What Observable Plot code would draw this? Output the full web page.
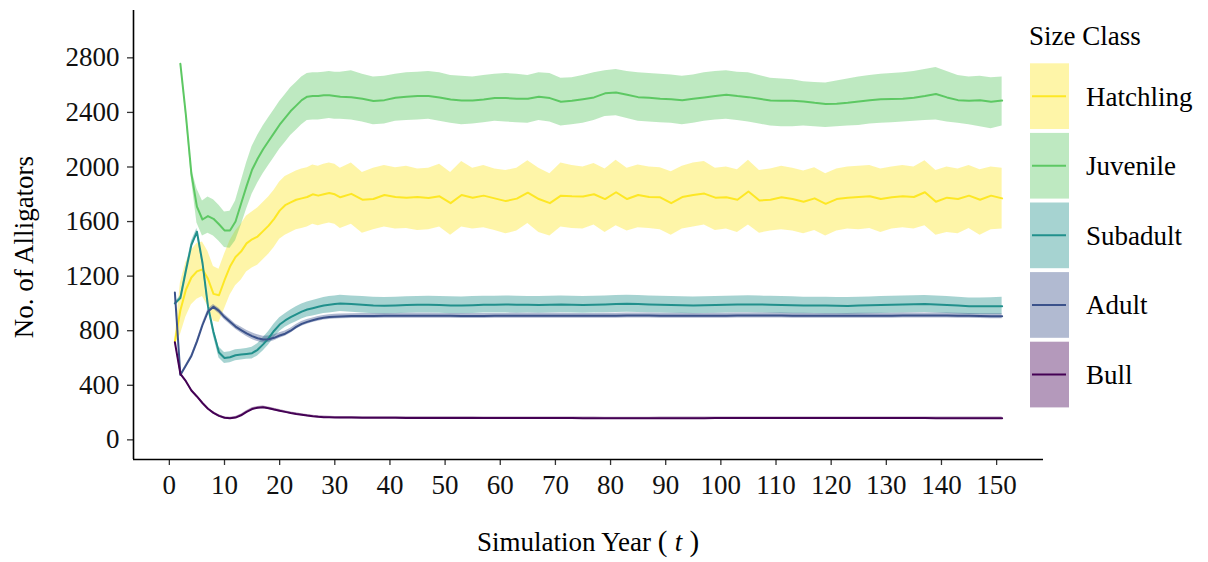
<!DOCTYPE html>
<html><head><meta charset="utf-8">
<script src="https://cdn.jsdelivr.net/npm/d3@7"></script>
<script src="https://cdn.jsdelivr.net/npm/@observablehq/plot@0.6"></script>
<style>body{margin:0;background:#fff}#chart{width:1208px;height:562px}</style>
</head><body><div id="chart"></div>
<script>
// ---------- data ----------
const classes = ["Hatchling", "Juvenile", "Subadult", "Adult", "Bull"];
const colors = ["#FDE725", "#5DC863", "#21908C", "#3B528B", "#440154"];
const xTicks = [0,10,20,30,40,50,60,70,80,90,100,110,120,130,140,150];
const yTicks = [0,400,800,1200,1600,2000,2400,2800];

// years 1..30 every year, then 31..151 every second year
const years = [1,2,3,4,5,6,7,8,9,10,11,12,13,14,15,16,17,18,19,20,21,22,23,24,25,26,27,28,29,30,
  31,33,35,37,39,41,43,45,47,49,51,53,55,57,59,61,63,65,67,69,71,73,75,77,79,81,83,85,87,89,
  91,93,95,97,99,101,103,105,107,109,111,113,115,117,119,121,123,125,127,129,131,133,135,137,139,141,143,145,147,149,151];

const hatchMean = [720,950,1100,1190,1235,1250,1180,1070,1060,1170,1270,1340,1380,1440,1470,1490,1530,1570,1620,1680,1720,1740,1760,1770,1780,1800,1790,1800,1810,1800,
  1778,1803,1760,1765,1795,1780,1775,1780,1772,1785,1735,1795,1775,1790,1770,1750,1768,1812,1765,1735,
  1790,1785,1783,1800,1765,1815,1765,1795,1780,1778,1735,1780,1795,1805,1775,1778,1760,1820,1755,1760,
  1778,1765,1745,1770,1730,1765,1775,1780,1785,1765,1778,1785,1780,1815,1745,1775,1765,1790,1760,1790,1770];
const hatchHi = [740,1150,1300,1390,1440,1450,1380,1270,1250,1360,1460,1530,1580,1640,1670,1700,1740,1780,1830,1890,1930,1950,1970,1985,1995,2015,2005,2020,2030,2020,
  1990,2030,1960,1990,2010,1995,2005,1985,1990,2020,1960,2040,1990,2010,1985,1975,1990,2045,1990,1950,
  2030,2010,2000,2025,1985,2050,1990,2015,2000,1995,1965,2005,2030,2040,1990,2000,1980,2050,1975,1985,
  2005,1990,1970,1995,1950,1985,2000,2005,2010,1985,2000,2010,2000,2045,1975,2000,1985,2010,1980,2000,1990];
const hatchLo = [700,770,900,990,1030,1050,980,870,860,960,1060,1130,1170,1230,1260,1280,1320,1360,1410,1470,1500,1520,1540,1550,1560,1580,1570,1580,1590,1580,
  1550,1580,1515,1540,1560,1545,1550,1535,1540,1560,1500,1560,1545,1555,1535,1510,1530,1585,1520,1495,
  1560,1550,1545,1575,1520,1570,1530,1555,1550,1540,1500,1545,1560,1575,1535,1545,1520,1575,1515,1530,
  1540,1530,1510,1535,1495,1530,1545,1540,1550,1520,1545,1555,1545,1570,1500,1520,1510,1550,1500,1540,1545];

const juvMean = [null,2756,2380,1950,1710,1615,1640,1620,1580,1535,1535,1600,1730,1860,1980,2060,2130,2190,2250,2310,2360,2410,2450,2490,2515,2520,2520,2525,2525,2520,
  2515,2511,2500,2484,2490,2508,2515,2520,2520,2510,2495,2488,2487,2495,2505,2505,2500,2500,2515,2505,
  2478,2485,2497,2510,2540,2546,2530,2512,2508,2500,2497,2490,2500,2510,2520,2530,2520,2512,2500,2487,
  2486,2485,2480,2470,2462,2463,2470,2480,2490,2497,2498,2500,2508,2520,2535,2510,2490,2485,2490,2478,2487];
const juvHi = [null,2760,2395,1990,1840,1750,1780,1760,1720,1670,1675,1750,1890,2030,2150,2230,2300,2360,2420,2480,2530,2580,2620,2660,2685,2690,2690,2695,2700,2695,
  2695,2705,2680,2660,2665,2680,2690,2695,2700,2690,2670,2665,2660,2670,2680,2685,2680,2670,2690,2685,
  2650,2655,2670,2690,2705,2715,2700,2690,2685,2680,2675,2665,2675,2690,2700,2705,2695,2690,2670,2650,
  2645,2640,2625,2620,2615,2630,2645,2660,2670,2680,2685,2690,2700,2715,2730,2700,2670,2660,2665,2655,2660];
const juvLo = [null,2750,2365,1910,1590,1495,1515,1495,1455,1410,1405,1460,1570,1690,1800,1880,1950,2010,2070,2130,2180,2230,2270,2310,2340,2345,2345,2350,2355,2350,
  2350,2345,2330,2310,2315,2335,2340,2345,2350,2335,2320,2310,2315,2325,2335,2330,2325,2320,2340,2330,
  2300,2310,2320,2340,2370,2375,2355,2335,2330,2325,2320,2310,2320,2335,2345,2350,2340,2330,2315,2300,
  2295,2295,2300,2295,2290,2295,2300,2305,2315,2320,2325,2330,2335,2340,2345,2330,2320,2310,2295,2280,2300];

const subMean = [1000,1040,1240,1430,1525,1300,980,790,640,600,605,620,625,630,635,660,700,745,800,845,875,900,920,940,955,965,975,985,990,995,
  1000,995,990,985,983,985,988,990,990,988,985,985,987,990,990,992,990,990,988,990,
  992,990,988,990,992,995,998,995,992,990,988,986,985,986,988,990,992,993,992,990,
  988,986,985,985,984,983,982,984,986,988,990,992,994,996,992,988,984,980,980,980,980];
const subHi = [1010,1055,1260,1455,1550,1320,1000,820,680,640,645,660,665,670,678,705,748,795,850,895,925,952,975,995,1010,1022,1033,1043,1050,1055,
  1060,1055,1050,1045,1043,1045,1048,1050,1052,1050,1048,1047,1050,1052,1052,1055,1052,1050,1050,1052,
  1055,1052,1050,1052,1055,1058,1060,1058,1055,1052,1050,1048,1047,1048,1050,1052,1055,1056,1054,1052,
  1050,1048,1046,1046,1045,1044,1043,1045,1047,1050,1052,1054,1056,1058,1054,1050,1045,1040,1040,1042,1045];
const subLo = [990,1025,1220,1405,1500,1280,960,760,600,560,565,580,585,590,592,615,652,695,750,795,825,848,865,885,900,908,917,927,930,935,
  940,935,930,925,923,925,928,930,930,928,925,925,927,930,930,930,928,930,928,930,
  932,930,928,930,932,934,936,934,932,930,928,926,925,926,928,930,932,932,930,928,
  926,925,924,924,923,922,921,923,925,927,928,930,932,934,930,926,922,918,918,918,918];

const adultMean = [1080,475,545,615,720,840,940,975,945,900,865,830,805,780,760,745,735,738,748,765,778,800,828,850,865,877,887,895,900,903,
  905,907,908,908,909,909,910,910,910,909,909,908,908,908,909,909,910,910,910,910,
  910,909,909,909,910,910,911,911,911,910,910,910,909,909,910,910,911,912,912,911,
  911,910,910,909,909,909,909,910,910,910,910,911,911,912,912,911,910,909,907,906,906];
const adultHi = [1085,480,552,625,732,855,957,993,965,920,885,850,827,803,785,770,760,762,770,785,797,818,846,867,882,894,904,912,917,920,
  923,925,926,926,927,927,928,928,928,927,927,926,926,926,927,927,928,928,928,928,
  928,927,927,927,928,928,929,929,929,928,928,928,927,927,928,928,929,930,930,929,
  929,928,928,927,927,927,927,928,928,928,928,929,929,930,930,929,928,927,925,924,924];
const adultLo = [1075,470,538,605,708,825,923,957,925,880,845,810,783,757,735,720,710,714,726,745,759,782,810,833,848,860,870,878,883,886,
  887,889,890,890,891,891,892,892,892,891,891,890,890,890,891,891,892,892,892,892,
  892,891,891,891,892,892,893,893,893,892,892,892,891,891,892,892,893,894,894,893,
  893,892,892,891,891,891,891,892,892,892,892,893,893,894,894,893,892,891,889,888,888];

const bullMean = [716,484,430,362,318,270,228,198,176,162,158,163,180,205,226,236,239,232,222,213,205,197,190,184,178,173,169,166,165,164,
  163,163,162,162,162,162,161,161,161,161,161,161,161,160,160,160,160,160,160,160,
  160,160,159,159,158,158,158,158,158,159,159,159,159,159,160,160,160,160,160,160,
  160,160,160,160,160,160,160,160,160,160,160,160,160,160,159,159,159,159,159,159,159];
const bullHi = [720,490,437,370,326,278,236,206,184,170,166,171,188,213,235,245,248,241,231,222,214,205,198,192,186,181,177,174,173,172,
  171,171,170,170,170,170,169,169,169,169,169,169,169,168,168,168,168,168,168,168,
  168,168,167,167,166,166,166,166,166,167,167,167,167,167,168,168,168,168,168,168,
  168,168,168,168,168,168,168,168,168,168,168,168,168,168,167,167,167,167,167,167,167];
const bullLo = [712,478,423,354,310,262,220,190,168,154,150,155,172,197,217,227,230,223,213,204,196,189,182,176,170,165,161,158,157,156,
  155,155,154,154,154,154,153,153,153,153,153,153,153,152,152,152,152,152,152,152,
  152,152,151,151,150,150,150,150,150,151,151,151,151,151,152,152,152,152,152,152,
  152,152,152,152,152,152,152,152,152,152,152,152,152,152,151,151,151,151,151,151,151];

// ---------- table ----------
const series = [
  ["Hatchling", hatchMean, hatchLo, hatchHi],
  ["Juvenile", juvMean, juvLo, juvHi],
  ["Subadult", subMean, subLo, subHi],
  ["Adult", adultMean, adultLo, adultHi],
  ["Bull", bullMean, bullLo, bullHi]
];
const rows = [];
for (const [cls, m, lo, hi] of series) {
  years.forEach((yr, i) => rows.push({cls, year: yr, mean: m[i], lo: lo[i], hi: hi[i]}));
}

// ---------- layout ----------
const W = 1208, H = 562, mL = 133, mR = 165, mT = 10, mB = 103;
const FONT = "'Liberation Serif', 'Times New Roman', serif";
const xDom = [-6.5, 158.5], yDom = [-144, 3147];

const svgEl = Plot.plot({
  width: W, height: H,
  marginLeft: mL, marginRight: mR, marginTop: mT, marginBottom: mB,
  style: {fontFamily: FONT, fontSize: "27px", color: "#000", background: "#fff", overflow: "visible"},
  x: {domain: xDom},
  y: {domain: yDom},
  color: {domain: classes, range: colors},
  marks: [
    Plot.areaY(rows, {x: "year", y1: "lo", y2: "hi", z: "cls", fill: "cls", fillOpacity: 0.4}),
    Plot.lineY(rows, {x: "year", y: "mean", z: "cls", stroke: "cls", strokeWidth: 2}),
    Plot.axisX({ticks: xTicks, tickSize: 6, tickPadding: 9, label: null, stroke: "#333", strokeWidth: 1.3, fill: "#111", tickFormat: d => String(d)}),
    Plot.axisY({ticks: yTicks, tickSize: 6, tickPadding: 8, label: null, stroke: "#333", strokeWidth: 1.3, fill: "#111", tickFormat: d => String(d)}),
    Plot.ruleX([xDom[0]], {stroke: "#000", strokeWidth: 1.6}),
    Plot.ruleY([yDom[0]], {stroke: "#000", strokeWidth: 1.6})
  ]
});
document.getElementById("chart").appendChild(svgEl);

// ---------- titles & legend ----------
const svg = d3.select(svgEl);
const xt = svg.append("text").attr("x", (mL + W - mR) / 2).attr("y", 551)
  .attr("text-anchor", "middle").attr("font-family", FONT).attr("font-size", 27).attr("fill", "#000");
xt.append("tspan").text("Simulation Year ");
xt.append("tspan").attr("font-size", 29).text("(\u2005");
xt.append("tspan").attr("font-style", "italic").text("t");
xt.append("tspan").attr("font-size", 29).text("\u2005)");

svg.append("text").attr("transform", `translate(33,247) rotate(-90)`)
  .attr("text-anchor", "middle").attr("font-family", FONT).attr("font-size", 27).attr("fill", "#000")
  .text("No. of Alligators");

const lg = svg.append("g").attr("font-family", FONT).attr("font-size", 27).attr("text-anchor", "start");
lg.append("text").attr("x", 1029).attr("y", 45).attr("text-anchor", "start").attr("fill", "#000").text("Size Class");
classes.forEach((c, i) => {
  const y0 = 63.3 + i * 69.6, h = 65.7;
  lg.append("rect").attr("x", 1030).attr("y", y0).attr("width", 39).attr("height", h)
    .attr("fill", colors[i]).attr("fill-opacity", 0.4);
  lg.append("line").attr("x1", 1032).attr("x2", 1066).attr("y1", y0 + h / 2).attr("y2", y0 + h / 2)
    .attr("stroke", colors[i]).attr("stroke-width", 2);
  lg.append("text").attr("x", 1086).attr("y", y0 + h / 2).attr("dy", "0.35em")
    .attr("text-anchor", "start").attr("fill", "#000").text(c);
});
</script>
</body></html>
